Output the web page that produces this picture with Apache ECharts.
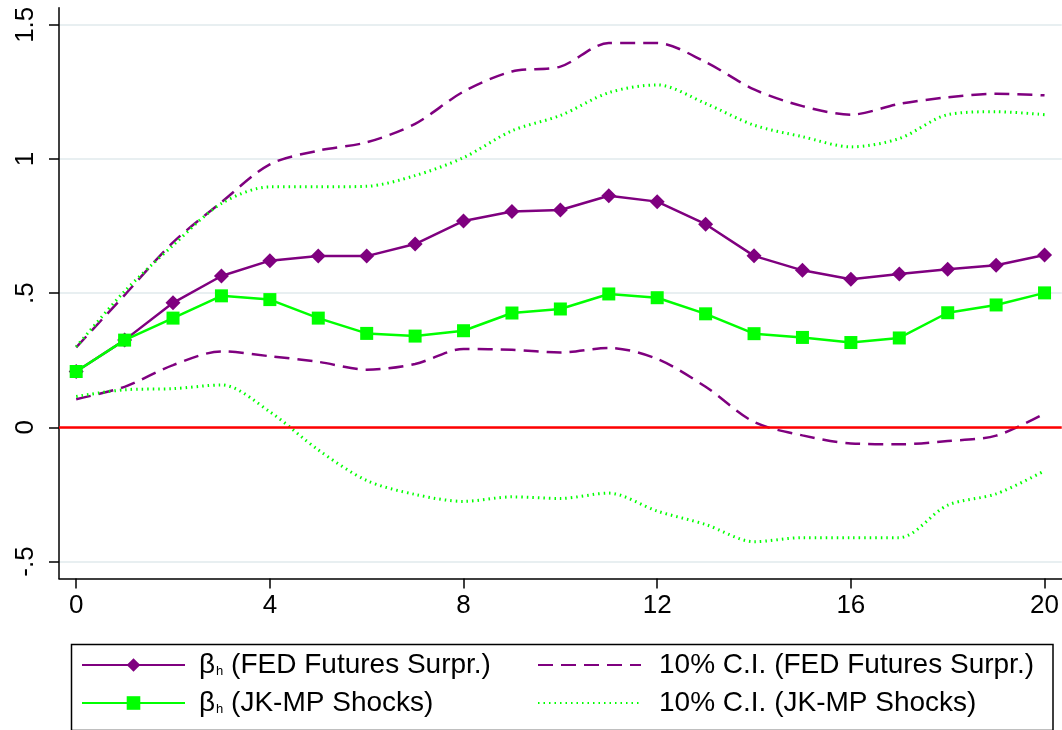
<!DOCTYPE html>
<html>
<head>
<meta charset="utf-8">
<script src="https://cdn.jsdelivr.net/npm/echarts@6/dist/echarts.min.js"></script>
<style>
  html, body { margin: 0; padding: 0; background: #fff; }
  #chart { width: 1062px; height: 730px; }
</style>
</head>
<body>
<div id="chart"></div>
<script>
// Horizons h = 0..20
const horizons = [0,1,2,3,4,5,6,7,8,9,10,11,12,13,14,15,16,17,18,19,20];

// Local-projection coefficients, FED futures surprises
const fedBeta  = [0.208,0.325,0.464,0.564,0.621,0.638,0.638,0.683,0.769,0.804,0.810,0.863,0.841,0.757,0.639,0.585,0.552,0.571,0.589,0.604,0.642];
const fedUpper = [0.298,0.493,0.689,0.839,0.980,1.031,1.062,1.131,1.251,1.326,1.344,1.432,1.432,1.361,1.259,1.197,1.165,1.205,1.230,1.243,1.237];
const fedLower = [0.105,0.151,0.232,0.283,0.265,0.244,0.215,0.236,0.292,0.289,0.279,0.296,0.255,0.151,0.020,-0.030,-0.060,-0.063,-0.051,-0.031,0.051];

// Local-projection coefficients, JK-MP shocks
const jkBeta  = [0.208,0.325,0.407,0.490,0.476,0.407,0.350,0.340,0.360,0.426,0.441,0.497,0.483,0.423,0.349,0.335,0.316,0.333,0.427,0.456,0.501];
const jkUpper = [0.300,0.507,0.678,0.834,0.896,0.896,0.898,0.938,1.005,1.105,1.162,1.247,1.276,1.207,1.126,1.083,1.045,1.076,1.165,1.176,1.165];
const jkLower = [0.115,0.140,0.144,0.158,0.058,-0.084,-0.198,-0.250,-0.276,-0.259,-0.265,-0.245,-0.312,-0.362,-0.426,-0.411,-0.411,-0.411,-0.290,-0.248,-0.162];

// Axis ticks
const xTicks = [0,4,8,12,16,20];
const yTicks = [-0.5,0,0.5,1,1.5];
const yTickLabels = ['-.5','0','.5','1','1.5'];

// Legend labels
const legendLabels = {
  fed:   'β{sub|h} (FED Futures Surpr.)',
  jk:    'β{sub|h} (JK-MP Shocks)',
  fedCI: '10% C.I. (FED Futures Surpr.)',
  jkCI:  '10% C.I. (JK-MP Shocks)'
};

const PURPLE = '#7f007f';
const GREEN = '#00ff00';
const FONT = 'Liberation Sans, Arial, sans-serif';

const pairs = vals => horizons.map((h, i) => [h, vals[i]]);

const legendText = gap => ({
  fontFamily: FONT, fontSize: 28, color: '#000', lineHeight: 32,
  padding: [0, 0, 0, gap],
  rich: { sub: { fontFamily: FONT, fontSize: 13, color: '#000', verticalAlign: 'bottom', padding: [0, 0, 3, 1] } }
});

// one legend entry per slot: [series name, left, top, text gap, hide symbol]
const legendSlots = [
  ['fed',   81,  649, 9,  false],
  ['jk',    81,  687, 9,  false],
  ['fedCI', 537, 649, 13, true],
  ['jkCI',  537, 687, 13, true]
];

const chart = echarts.init(document.getElementById('chart'), null, { renderer: 'canvas' });

chart.setOption({
  animation: false,
  backgroundColor: '#fff',
  grid: { left: 59, right: 0, top: 7.7, bottom: 151.4, containLabel: false },
  xAxis: {
    type: 'value',
    min: -0.355, max: 20.355,
    axisLine: { show: true, onZero: false, lineStyle: { color: '#000', width: 1.5 } },
    axisTick: { show: true, length: 10, lineStyle: { color: '#000', width: 1.5 }, customValues: xTicks },
    axisLabel: { customValues: xTicks, fontFamily: FONT, fontSize: 26, color: '#000', margin: 14 },
    splitLine: { show: false }
  },
  yAxis: {
    type: 'value',
    min: -0.5636, max: 1.5636,
    axisLine: { show: true, onZero: false, lineStyle: { color: '#000', width: 1.5 } },
    axisTick: { show: true, length: 10, lineStyle: { color: '#000', width: 1.5 }, customValues: yTicks },
    axisLabel: {
      customValues: yTicks, rotate: 90,
      fontFamily: FONT, fontSize: 26, color: '#000', margin: 20,
      formatter: v => yTickLabels[yTicks.findIndex(t => Math.abs(t - v) < 1e-6)]
    },
    splitLine: { show: true, lineStyle: { color: '#e8eff1', width: 2 } }
  },
  legend: legendSlots.map(([name, left, top, gap, hideSymbol]) => ({
    orient: 'horizontal', left: left, top: top, padding: 0,
    itemWidth: 103, itemHeight: 17,
    data: [hideSymbol ? { name: name, itemStyle: { opacity: 0 } } : name],
    formatter: n => legendLabels[n],
    textStyle: legendText(gap),
    selectedMode: false
  })),
  graphic: [{
    type: 'rect', left: 69, top: 642,
    shape: { width: 981.5, height: 86 },
    style: { fill: 'none', stroke: '#000', lineWidth: 1.5 },
    z: 0
  }],
  series: [
    {
      name: 'fedCI', type: 'line', data: pairs(fedUpper), symbol: 'none', smooth: 0.3,
      lineStyle: { color: PURPLE, width: 2.5, type: [15, 8] }, itemStyle: { color: PURPLE },
      markLine: {
        silent: true, symbol: 'none', label: { show: false },
        lineStyle: { color: '#ff0000', width: 2.5, type: 'solid' },
        data: [{ yAxis: 0 }]
      }
    },
    {
      name: 'fedCI', type: 'line', data: pairs(fedLower), symbol: 'none', smooth: 0.3,
      lineStyle: { color: PURPLE, width: 2.5, type: [15, 8] }, itemStyle: { color: PURPLE }
    },
    {
      name: 'jkCI', type: 'line', data: pairs(jkUpper), symbol: 'none', smooth: 0.3,
      lineStyle: { color: GREEN, width: 3, type: [1.5, 4] }, itemStyle: { color: GREEN }
    },
    {
      name: 'jkCI', type: 'line', data: pairs(jkLower), symbol: 'none', smooth: 0.3,
      lineStyle: { color: GREEN, width: 3, type: [1.5, 4] }, itemStyle: { color: GREEN }
    },
    {
      name: 'fed', type: 'line', data: pairs(fedBeta),
      symbol: 'diamond', symbolSize: 15, showAllSymbol: true,
      lineStyle: { color: PURPLE, width: 2.5 }, itemStyle: { color: PURPLE }
    },
    {
      name: 'jk', type: 'line', data: pairs(jkBeta),
      symbol: 'rect', symbolSize: 13, showAllSymbol: true,
      lineStyle: { color: GREEN, width: 2.5 }, itemStyle: { color: GREEN }
    }
  ]
});
</script>
</body>
</html>
